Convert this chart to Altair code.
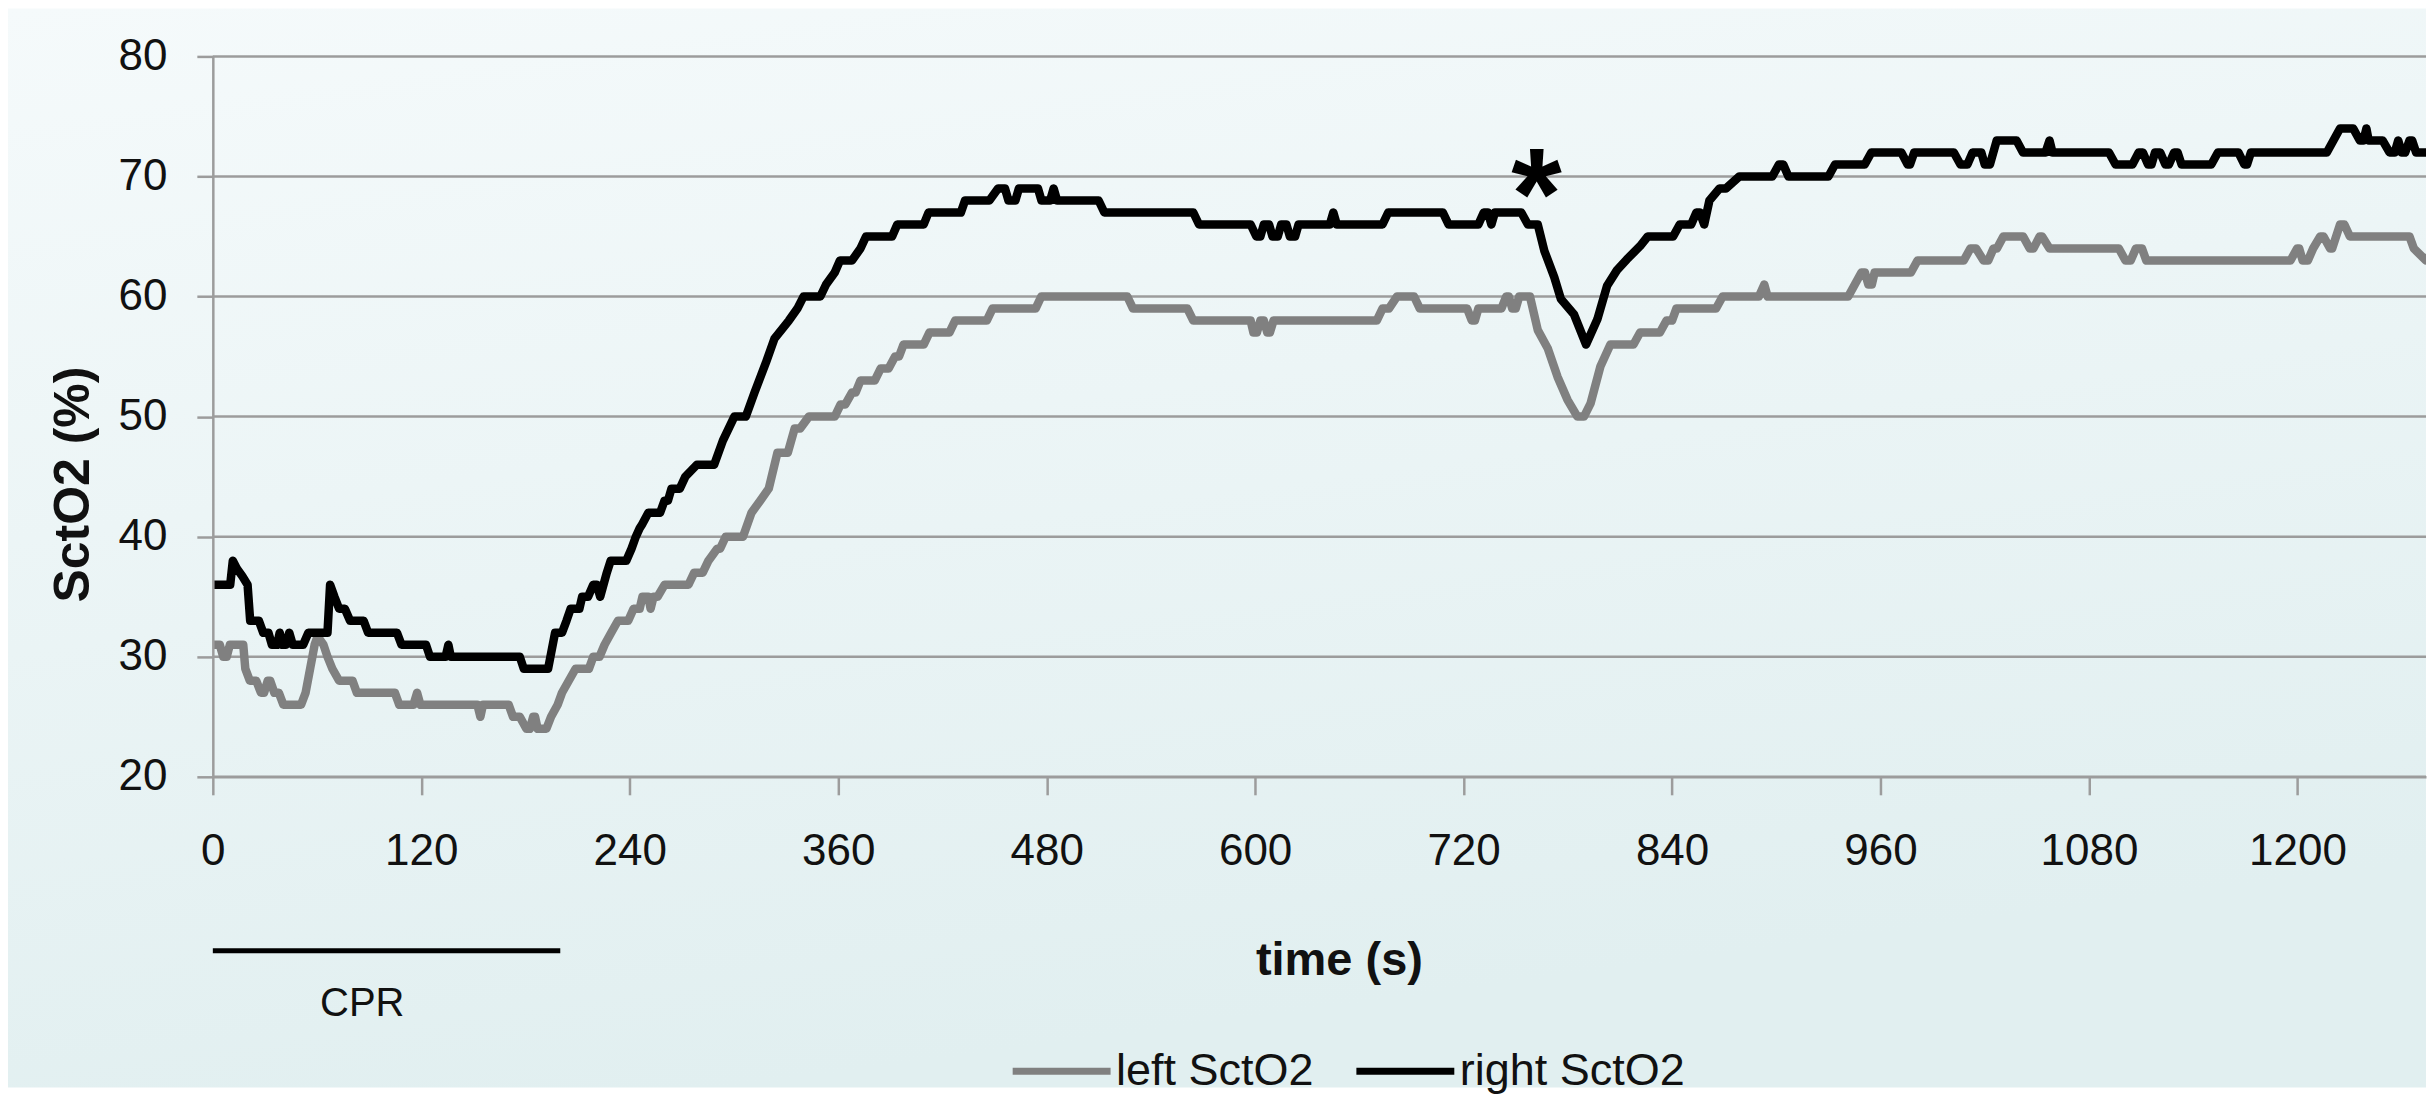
import altair as alt
import pandas as pd

# ---------------- data ----------------
right_sct02 = [(0,36),(10,36),(11.5,38),(14,37.3),(17,36.7),(20,36),(21.5,33),(26.5,33),(29,32),(32,32),(34,31),(37,31),(38.5,32),(40,31),(42,31),(44,32),(46,31),(52,31),(55,32),(66,32),(67.5,36),(70,35),(72.7,34),(76,34),(79,33),(86.8,33),(89.4,32),(106,32),(108.6,31),(122.7,31),(125,30),(134,30),(135.6,31),(137,30),(176.7,30),(179,29),(193,29),(197,32),(201,32),(203.6,33),(206,34),(211,34),(212.6,35),(216,35),(219,36),(221,36),(223,35),(226.8,37),(229,38),(238,38),(241,39),(243.5,40),(245.7,40.7),(247,41),(250.7,42),(257.5,42),(260,43),(262,43),(264,44),(268.8,44),(272,45),(278.7,46),(288.6,46),(293.6,48),(300.2,50),(306.8,50),(311.8,52),(318.4,54.5),(323.3,56.5),(331.6,58),(336.5,59),(340,60),(349.7,60),(353,61),(358,62),(361,63),(367.9,63),(372.8,64),(376,65),(391,65),(394,66),(409.2,66),(412,67),(430.6,67),(433,68),(447,68),(452,69),(456,69),(458,68),(462,68),(464,69),(475,69),(477,68),(482,68),(484,69),(486,68),(509.9,68),(513.2,67),(564.4,67),(567.7,66),(597.4,66),(600.7,65),(603,65),(605,66),(608,66),(610,65),(613,65),(615,66),(618,66),(620,65),(623,65),(625,66),(643,66),(645,67),(647,66),(673.3,66),(676.6,67),(708,67),(711.4,66),(728.5,66),(731.6,67),(734,67),(736,66),(738,67),(753.2,67),(757,66),(762.7,66),(766.5,63.8),(772.2,61.6),(776,59.8),(783.6,58.5),(790.5,56),(797,58.1),(802.6,60.9),(808.3,62.2),(814,63.1),(821.6,64.2),(826,65),(840.6,65),(844.4,66),(851,66),(854,67),(856,67),(858.5,66),(861.5,68),(867.3,69),(871,69),(878.7,70),(897.7,70),(901.5,71),(904,71),(907,70),(930,70),(933.8,71),(950.9,71),(954.7,72),(972,72),(975.6,71),(977,71),(979.4,72),(1002.2,72),(1006,71),(1010,71),(1013,72),(1018,72),(1020,71),(1023,71),(1026.9,73),(1038.3,73),(1042,72),(1055,72),(1057.3,73),(1059,72),(1091.5,72),(1095.3,71),(1105,71),(1108.6,72),(1111,72),(1114,71),(1116,71),(1118,72),(1121,72),(1124,71),(1126,71),(1129,72),(1131,72),(1133.3,71),(1150.4,71),(1154.2,72),(1166,72),(1169.4,71),(1171,71),(1173.2,72),(1216.9,72),(1220.7,73),(1224.5,74),(1232.1,74),(1235.9,73),(1238,73),(1239.7,74),(1241,73),(1249,73),(1253,72),(1256,72),(1258,73),(1260,72),(1262,72),(1264.5,73),(1266,73),(1268.3,72),(1279,72)]

left_sct02 = [(0,31),(4,31),(6,30),(8,30),(9.8,31),(17.5,31),(18.7,29),(21.3,28),(25,28),(27.7,27),(29.5,27),(31.6,28),(33,28),(35.4,27),(38,27),(40.6,26),(50.8,26),(53.4,27),(56,29),(58.6,31),(60.3,31.7),(63.7,31),(66,30),(68.8,29),(72.7,28),(80.4,28),(82.9,27),(104.8,27),(107.3,26),(115.5,26),(117.6,27),(119.5,26),(152.3,26),(154,25),(155.5,26),(170.3,26),(172.8,25),(176.7,25),(180.5,24),(182.5,24),(184.4,25),(185.5,25),(187,24),(192,24),(194.7,25),(198.5,26),(201,27),(204.9,28),(208.8,29),(216.5,29),(219,30),(222.6,30),(225.5,31),(229.3,32),(233.2,33),(239.1,33),(242.2,34),(245.7,34),(247.3,35),(250.7,35),(252,34),(253.7,35),(256,35),(260.1,36),(273.8,36),(277.1,37),(282,37),(285.3,38),(290.3,39),(292,39),(295.2,40),(305.2,40),(310.1,42),(315.1,43),(320,44),(325,47),(331,47),(334.9,49),(338,49),(343.1,50),(358,50),(361.3,51),(364,51),(367.9,52),(370,52),(372.8,53),(381,53),(384.4,54),(389,54),(392.7,55),(395,55),(397.6,56),(409.2,56),(412.5,57),(424,57),(427.3,58),(445.5,58),(448.8,59),(473.6,59),(476.9,60),(526.4,60),(529.7,59),(561,59),(564.4,58),(597.4,58),(599,57),(601,57),(603,58),(605,58),(607,57),(608.5,57),(610.6,58),(670,58),(673.3,59),(677,59),(681.6,60),(691.5,60),(694.8,59),(722,59),(724.7,58),(726.5,58),(728.5,59),(741.8,59),(744.5,60),(746,60),(748,59),(750,59),(752,60),(758.2,60),(762.7,57.2),(768.4,55.7),(774.1,53.3),(779.8,51.4),(785.5,50),(789.3,50),(793.1,51.1),(798.8,54.2),(804.5,56),(817.8,56),(821.6,57),(833,57),(836.8,58),(840,58),(842.5,59),(865.3,59),(869.1,60),(890,60),(893.1,61),(895,60),(941.4,60),(945.2,61),(949,62),(951,62),(953,61),(955,61),(956.6,62),(977.5,62),(981.3,63),(1007.9,63),(1011.7,64),(1015,64),(1019.3,63),(1022,63),(1025,64),(1027,64),(1030.7,65),(1042.1,65),(1045.9,64),(1048,64),(1051.6,65),(1053,65),(1057.3,64),(1097.2,64),(1101,63),(1104,63),(1107,64),(1110.5,64),(1113,63),(1196,63),(1199.8,64),(1201,64),(1203,63),(1206,63),(1209,64),(1213.1,65),(1215,65),(1218.8,64),(1220,64),(1224.5,66),(1227,66),(1230.2,65),(1264.5,65),(1267,64),(1274,63),(1279,64)]

series_names = ["left SctO2", "right SctO2"]
series_colors = ["#808080", "#000000"]
x_ticks = [0, 120, 240, 360, 480, 600, 720, 840, 960, 1080, 1200]
y_ticks = [20, 30, 40, 50, 60, 70, 80]
cpr_start, cpr_end = 0, 200
event_time, event_level = 762, 64.8

# ---------------- build table ----------------
rows = []
for name, pts in zip(series_names, [left_sct02, right_sct02]):
    for t, v in pts:
        rows.append({"time": t, "value": v, "series": name})
df = pd.DataFrame(rows)

FONT = "Liberation Sans"
GRID = "#9c9c9c"
TXT = "#111111"
W, H = 2215, 721

x_scale = alt.Scale(domain=[0, 1274], nice=False, zero=False)
y_scale = alt.Scale(domain=[20, 80], nice=False, zero=False)

x_axis = alt.Axis(
    values=x_ticks, format="d", title="time (s)", grid=False, zindex=1,
    tickSize=18, tickColor=GRID, tickWidth=2.5,
    domainColor=GRID, domainWidth=2.5,
    labelPadding=35, labelFontSize=44, labelFont=FONT, labelColor=TXT,
    labelFlush=False, labelOverlap=False,
    titleFont=FONT, titleFontSize=47, titleFontWeight="bold", titleColor=TXT,
    titleX=1127, titleY=198, titleBaseline="alphabetic", titleAlign="center",
)
y_axis = alt.Axis(
    values=y_ticks, format="d", title="SctO2 (%)", grid=False, zindex=1,
    tickSize=16, tickColor=GRID, tickWidth=2.5,
    domainColor=GRID, domainWidth=2.5,
    labelPadding=30, labelFontSize=44, labelFont=FONT, labelColor=TXT,
    labelFlush=False,
    titleFont=FONT, titleFontSize=50, titleFontWeight="bold", titleColor=TXT,
    titleX=-124, titleY=428, titleAngle=270, titleBaseline="alphabetic", titleAlign="center",
)

bg = alt.Chart(pd.DataFrame({"a": [0]})).mark_rect(
    color=alt.LinearGradient(
        gradient="linear",
        stops=[alt.GradientStop(offset=0, color="#f5fafb"),
               alt.GradientStop(offset=1, color="#e1eff0")],
        x1=0, y1=0, x2=0.3, y2=1,
    )
).encode(x=alt.value(-205), x2=alt.value(W), y=alt.value(-48), y2=alt.value(1032))

grid = alt.Chart(pd.DataFrame({"v": y_ticks})).mark_rule(
    color=GRID, strokeWidth=2.5
).encode(y=alt.Y("v:Q", scale=y_scale, axis=y_axis))

lines = alt.Chart(df).mark_line(strokeWidth=8.5, strokeJoin="round", clip=True).encode(
    x=alt.X("time:Q", scale=x_scale, axis=x_axis),
    y=alt.Y("value:Q", scale=y_scale, axis=y_axis),
    color=alt.Color(
        "series:N",
        scale=alt.Scale(domain=series_names, range=series_colors),
        legend=alt.Legend(
            title=None, orient="none", legendX=797, legendY=963,
            direction="horizontal", symbolType="stroke", symbolSize=9604,
            symbolStrokeWidth=7, labelFontSize=45, labelFont=FONT, labelColor=TXT,
            labelOffset=2, columnPadding=28, labelLimit=600, padding=0,
        ),
    ),
)

cpr_rule = alt.Chart(pd.DataFrame({"start": [cpr_start], "end": [cpr_end]})).mark_rule(
    color="black", strokeWidth=5
).encode(x="start:Q", x2="end:Q", y=alt.value(895))

cpr_text = alt.Chart(pd.DataFrame({"t": [86], "label": ["CPR"]})).mark_text(
    font=FONT, fontSize=40, baseline="alphabetic", align="center", color=TXT
).encode(x="t:Q", y=alt.value(960), text="label:N")

star = alt.Chart(pd.DataFrame({"t": [event_time], "v": [event_level], "label": ["*"]})).mark_text(
    font=FONT, fontWeight="bold", fontSize=130, baseline="alphabetic",
    align="center", color="black"
).encode(x="t:Q", y="v:Q", text="label:N")

chart = alt.layer(bg, grid, lines, cpr_rule, cpr_text, star).properties(
    width=W, height=H, padding=0
).configure_view(stroke=None)

chart.save("out.html", embed_options={"renderer": "svg", "actions": False})
